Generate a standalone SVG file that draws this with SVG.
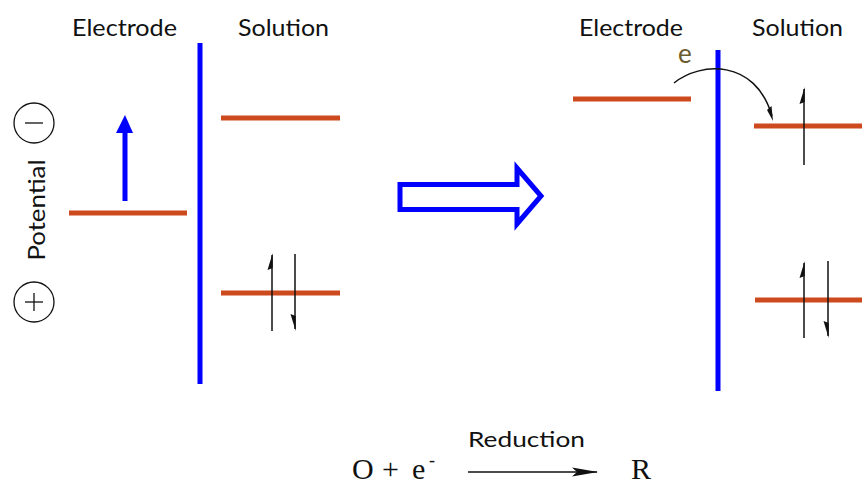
<svg xmlns="http://www.w3.org/2000/svg" width="862" height="483" viewBox="0 0 862 483">
<defs>
<style>
.lbl{font-family:Lato,"Open Sans","Liberation Sans",sans-serif;font-size:23px;fill:#111}
.ser{font-family:"Liberation Serif","Times New Roman",serif;font-size:30px;fill:#111}
.lvl{stroke:#CD4A1F;stroke-width:5;fill:none}
.wall{stroke:#0000FF;stroke-width:5;fill:none}
.spin{stroke:#111;stroke-width:1.5;fill:none}
.barb{fill:#111;stroke:none}
</style>
<marker id="ah" markerWidth="26" markerHeight="10" refX="25" refY="5" orient="auto" markerUnits="userSpaceOnUse">
<path d="M0,0.5 L26,5 L0,9.5 L5,5 Z" fill="#111"/>
</marker>
</defs>

<g id="labels">
<text class="lbl" x="72" y="36" textLength="105" lengthAdjust="spacingAndGlyphs">Electrode</text>
<text class="lbl" x="238" y="36" textLength="91" lengthAdjust="spacingAndGlyphs">Solution</text>
<text class="lbl" x="579" y="36" textLength="104" lengthAdjust="spacingAndGlyphs">Electrode</text>
<text class="lbl" x="752" y="36" textLength="91" lengthAdjust="spacingAndGlyphs">Solution</text>
</g>

<g id="potential-axis">
<circle cx="34" cy="123" r="20" fill="none" stroke="#111" stroke-width="1.3"/>
<line x1="25" y1="123" x2="43" y2="123" stroke="#111" stroke-width="1.3"/>
<circle cx="34" cy="302" r="20" fill="none" stroke="#111" stroke-width="1.3"/>
<line x1="25" y1="302" x2="43" y2="302" stroke="#111" stroke-width="1.3"/>
<line x1="34" y1="293" x2="34" y2="311" stroke="#111" stroke-width="1.3"/>
<text class="lbl" transform="translate(45,210) rotate(-90)" text-anchor="middle" textLength="101" lengthAdjust="spacingAndGlyphs">Potential</text>
</g>

<g id="left-electrode">
<line class="wall" x1="200" y1="43" x2="200" y2="384"/>
<line class="lvl" x1="69" y1="213" x2="187" y2="213"/>
<line x1="125" y1="201" x2="125" y2="130" stroke="#0000FF" stroke-width="5"/>
<path d="M116,133 L125,115 L133,133 Z" fill="#0000FF"/>
</g>

<g id="left-solution">
<line class="lvl" x1="221" y1="118" x2="340" y2="118"/>
<line class="lvl" x1="221" y1="293" x2="340" y2="293"/>
<line class="spin" x1="272" y1="331" x2="272" y2="255"/>
<path class="barb" d="M272.7,253 L272.7,268 L267.5,270 Z"/>
<line class="spin" x1="295" y1="254" x2="295" y2="329"/>
<path class="barb" d="M295.7,331 L295.7,316 L290.5,314 Z"/>
</g>

<g id="transition-arrow">
<path d="M400,184.5 L517,184.5 L517,168 L541,196 L517,224 L517,209.5 L400,209.5 Z" fill="none" stroke="#0000FF" stroke-width="5"/>
</g>

<g id="right-electrode">
<line class="lvl" x1="573" y1="99" x2="691" y2="99"/>
<line class="wall" x1="718" y1="50" x2="718" y2="391"/>
<text x="678" y="63" style="font-family:Lato,'Open Sans','Liberation Sans',sans-serif;font-size:26px;fill:#6B5A2E">e</text>
</g>

<g id="right-solution">
<line class="lvl" x1="754" y1="126" x2="862" y2="126"/>
<line class="spin" x1="804" y1="165" x2="804" y2="89"/>
<path class="barb" d="M804.7,87 L804.7,102 L799.5,104 Z"/>
<line class="lvl" x1="755" y1="300" x2="862" y2="300"/>
<line class="spin" x1="804" y1="338" x2="804" y2="263"/>
<path class="barb" d="M804.7,261 L804.7,276 L799.5,278 Z"/>
<line class="spin" x1="828" y1="261" x2="828" y2="336"/>
<path class="barb" d="M828.7,338 L828.7,323 L823.5,321 Z"/>
</g>

<g id="connectors">
<path d="M674,83 C700,62 755,58 772,116" fill="none" stroke="#111" stroke-width="1.5"/>
<path class="barb" d="M773,121 L771.5,106 L767,110 Z"/>
<line x1="468" y1="472" x2="597" y2="472" stroke="#111" stroke-width="1.5" marker-end="url(#ah)"/>
</g>

<g id="equation">
<text class="ser" y="479"><tspan x="352">O</tspan><tspan x="382">+</tspan><tspan x="412">e</tspan></text>
<text class="ser" x="429" y="466" style="font-size:18px">-</text>
<text class="lbl" x="468" y="447" style="font-size:21px" textLength="117" lengthAdjust="spacingAndGlyphs">Reduction</text>
<text class="ser" x="631" y="479">R</text>
</g>
</svg>
